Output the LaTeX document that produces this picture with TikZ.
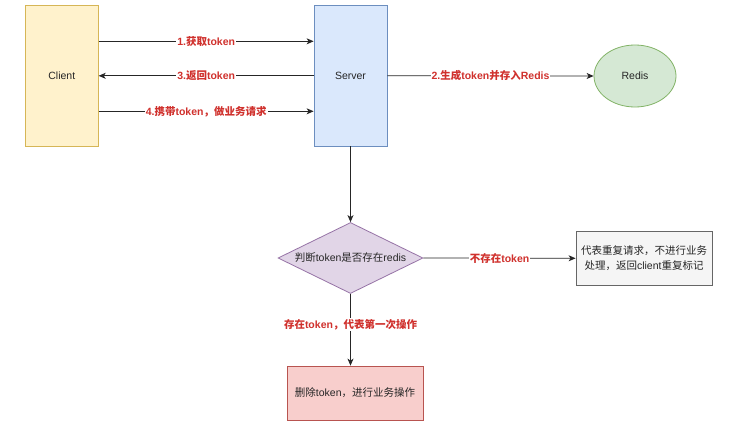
\documentclass[tikz,border=0pt]{standalone}
\usepackage{fontspec}
\setmainfont{Liberation Sans}
\newfontfamily\cjk{Noto Sans CJK SC}
\usetikzlibrary{shapes.geometric,arrows.meta}
\definecolor{lblred}{HTML}{D0312D}
\definecolor{yfill}{HTML}{FFF2CC}\definecolor{ydraw}{HTML}{D6B656}
\definecolor{bfill}{HTML}{DAE8FC}\definecolor{bdraw}{HTML}{6C8EBF}
\definecolor{gfill}{HTML}{D5E8D4}\definecolor{gdraw}{HTML}{82B366}
\definecolor{pfill}{HTML}{E1D5E7}\definecolor{pdraw}{HTML}{9673A6}
\definecolor{sfill}{HTML}{F5F5F5}\definecolor{sdraw}{HTML}{666666}
\definecolor{rfill}{HTML}{F8CECC}\definecolor{rdraw}{HTML}{B85450}
\begin{document}
\begin{tikzpicture}[x=1pt,y=-1pt,
  every node/.style={font=\fontsize{10.5pt}{15pt}\selectfont, text=black!85},
  tall/.style={rectangle, draw, line width=0.8pt, minimum width=73pt, minimum height=140.5pt, inner sep=0pt},
  boxn/.style={rectangle, draw, line width=0.8pt, inner sep=0pt},
  arr/.style={-{Stealth[length=7pt,width=6pt,inset=2pt]}, line width=0.8pt, draw=black!85},
  lbl/.style={fill=white, text=lblred, font=\fontsize{10.5pt}{12pt}\selectfont\bfseries, inner sep=1pt}]
\useasboundingbox (0,0) rectangle (736,434);
\fill[white] (0,0) rectangle (736,434);

\node[tall, fill=yfill, draw=ydraw] (client) at (61.8,75.8) {Client};
\node[tall, fill=bfill, draw=bdraw] (server) at (350.5,75.8) {Server};
\node[ellipse, draw=gdraw, fill=gfill, line width=0.8pt, minimum width=82pt, minimum height=62pt, inner sep=0pt] (redis) at (635,76) {Redis};
\node[diamond, draw=pdraw, fill=pfill, line width=0.8pt, minimum width=145pt, minimum height=71pt, inner sep=0pt] (dia) at (350.5,258) {};
\node (diatext) at (dia.center) {{\cjk 判断}token{\cjk 是否存在}redis};
\node[boxn, fill=sfill, draw=sdraw, minimum width=136pt, minimum height=54.5pt, align=center] (dup) at (644,258.3) {{\cjk 代表重复请求，不进行业务}\\{\cjk 处理，返回}client{\cjk 重复标记}};
\node[boxn, fill=rfill, draw=rdraw, minimum width=136pt, minimum height=54pt] (del) at (355,393) {{\cjk 删除}token{\cjk ，进行业务操作}};

\draw[arr] ([yshift=34.5pt]client.east) -- node[lbl]{1.{\cjk 获取}token} ([yshift=34.5pt]server.west);
\draw[arr] (server.west) -- node[lbl]{3.{\cjk 返回}token} (client.east);
\draw[arr] ([yshift=-35.5pt]client.east) -- node[lbl]{4.{\cjk 携带}token{\cjk ，做业务请求}} ([yshift=-35.5pt]server.west);
\draw[arr] (server.east) -- node[lbl]{2.{\cjk 生成}token{\cjk 并存入}Redis} (redis.west);
\draw[arr] (server.south) -- (dia.north);
\draw[arr] (dia.east) -- node[lbl]{{\cjk 不存在}token} (dup.west);
\draw[arr] (dia.south) -- node[lbl, pos=0.43]{{\cjk 存在}token{\cjk ，代表第一次操作}} (dia.south |- del.north);
\end{tikzpicture}
\end{document}
